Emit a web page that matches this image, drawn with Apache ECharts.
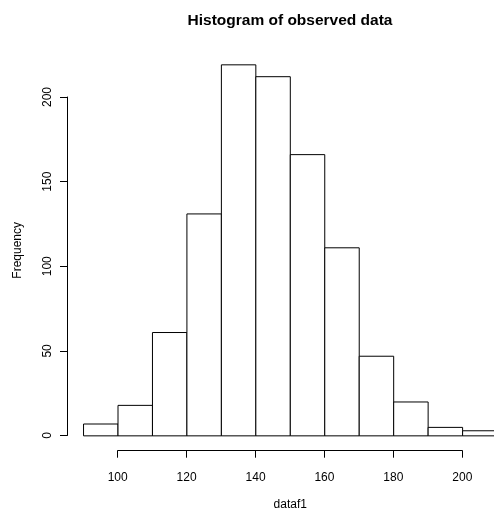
<!DOCTYPE html>
<html>
<head>
<meta charset="utf-8">
<title>Histogram of observed data</title>
<script src="https://cdn.jsdelivr.net/npm/echarts@6/dist/echarts.min.js"></script>
<style>
  html, body { margin: 0; padding: 0; background: #fff; }
  #chart { width: 494px; height: 512px; }
</style>
</head>
<body>
<div id="chart"></div>
<script>
// Histogram bins (left edges, width 10) and counts
var binStarts = [90, 100, 110, 120, 130, 140, 150, 160, 170, 180, 190, 200];
var binWidth = 10;
var counts = [7, 18, 61, 131, 219, 212, 166, 111, 47, 20, 5, 3];
var xTicks = [100, 120, 140, 160, 180, 200];
var yTicks = [0, 50, 100, 150, 200];

var FONT = 'Liberation Sans, Arial, Helvetica, sans-serif';

// plotting range padded by 4% on each side, like a base R plot
var xLo = binStarts[0], xHi = binStarts[binStarts.length - 1] + binWidth;
var yHi = Math.max.apply(null, counts);
var xPad = (xHi - xLo) * 0.04, yPad = yHi * 0.04;

var bars = binStarts.map(function (s, i) { return [s, s + binWidth, counts[i]]; });

var chart = echarts.init(document.getElementById('chart'), null, { renderer: 'canvas' });

chart.setOption({
  backgroundColor: '#ffffff',
  animation: false,
  graphic: [
    {
      type: 'text', x: 290, y: 21,
      style: {
        text: 'Histogram of observed data', align: 'center', verticalAlign: 'middle',
        font: 'bold 15.5px ' + FONT, fill: '#000'
      }
    }
  ],
  grid: [
    // data region (runs past the right edge of the canvas)
    { left: 67, top: 50, width: 446.6, height: 400.7, outerBoundsMode: 'none', containLabel: false },
    // x axis strip spanning the tick range
    { left: 117.7, top: 440, width: 344.6, height: 10.7, outerBoundsMode: 'none', containLabel: false },
    // y axis strip spanning the tick range
    { left: 67, top: 97, width: 10, height: 338.5, outerBoundsMode: 'none', containLabel: false }
  ],
  xAxis: [
    {
      gridIndex: 0, type: 'value', min: xLo - xPad, max: xHi + xPad,
      axisLine: { show: false }, axisTick: { show: false }, axisLabel: { show: false },
      splitLine: { show: false },
      name: 'dataf1', nameLocation: 'middle', nameGap: 48,
      nameTextStyle: { fontFamily: FONT, fontSize: 12, color: '#000' }
    },
    {
      gridIndex: 1, type: 'value', min: xTicks[0], max: xTicks[xTicks.length - 1], interval: 20,
      position: 'bottom',
      axisLine: { show: true, lineStyle: { color: '#000', width: 1 } },
      axisTick: { show: true, length: 7, lineStyle: { color: '#000', width: 1 } },
      axisLabel: { show: true, margin: 21, fontFamily: FONT, fontSize: 12, color: '#000' },
      splitLine: { show: false }
    },
    {
      gridIndex: 2, type: 'value', show: false
    }
  ],
  yAxis: [
    {
      gridIndex: 0, type: 'value', min: -yPad, max: yHi + yPad,
      axisLine: { show: false }, axisTick: { show: false }, axisLabel: { show: false },
      splitLine: { show: false },
      name: 'Frequency', nameLocation: 'middle', nameGap: 43,
      nameTextStyle: { fontFamily: FONT, fontSize: 12, color: '#000' }
    },
    {
      gridIndex: 1, type: 'value', show: false
    },
    {
      gridIndex: 2, type: 'value', min: yTicks[0], max: yTicks[yTicks.length - 1], interval: 50,
      position: 'left',
      axisLine: { show: true, lineStyle: { color: '#000', width: 1 } },
      axisTick: { show: true, length: 7, lineStyle: { color: '#000', width: 1 } },
      axisLabel: { show: true, rotate: 90, margin: 13, fontFamily: FONT, fontSize: 12, color: '#000' },
      splitLine: { show: false }
    }
  ],
  series: [
    {
      type: 'custom',
      xAxisIndex: 0, yAxisIndex: 0,
      data: bars,
      clip: false,
      renderItem: function (params, api) {
        var p0 = api.coord([api.value(0), 0]);
        var p1 = api.coord([api.value(1), api.value(2)]);
        return {
          type: 'rect',
          shape: { x: p0[0], y: p1[1], width: p1[0] - p0[0], height: p0[1] - p1[1] },
          style: { fill: '#ffffff', stroke: '#000000', lineWidth: 1 }
        };
      }
    }
  ]
});
</script>
</body>
</html>
